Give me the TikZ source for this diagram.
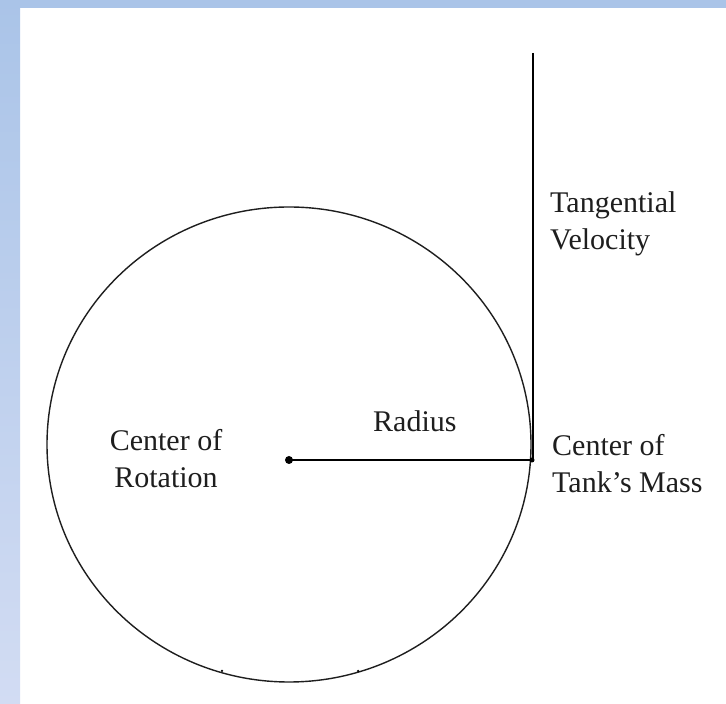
\documentclass[tikz,border=0pt]{standalone}
\usepackage{fontspec}
\setmainfont{Liberation Serif}
\definecolor{bgtop}{RGB}{170,196,232}
\definecolor{bgbot}{RGB}{210,220,243}
\definecolor{ink}{RGB}{30,30,30}
\begin{document}
\begin{tikzpicture}[x=1pt,y=1pt,
  lbl/.style={font=\fontsize{30}{37}\selectfont, text=ink, inner sep=0pt},
  thin line/.style={draw=ink, line width=1.4pt},
  thick line/.style={draw=black, line width=2pt},
  dotmark/.style={circle, fill=black, inner sep=0pt, minimum size=#1}]
\useasboundingbox (0,0) rectangle (726,704);
\fill[white] (0,0) rectangle (726,704);
\shade[top color=bgtop, bottom color=bgbot] (0,0) rectangle (20,704);
\fill[bgtop] (0,696) rectangle (726,704);
% circle
\draw[thin line] (289,259.5) ellipse [x radius=242, y radius=237.5];
% points
\node[dotmark=8pt] (O) at (289,244) {};
\node[dotmark=5pt] (M) at (532,244) {};
\coordinate (T) at (533,651);
\node[dotmark=2.5pt] (d1) at (222,33) {};
\node[dotmark=2.5pt] (d2) at (358,33) {};
% radius and tangent
\draw[thick line] (O.center) -- (M.center);
\draw[thick line] (T) -- (T |- M);
% labels (base anchor = baseline of last line)
\node[lbl, anchor=base west, align=left] (tv) at (550,454) {Tangential\\Velocity};
\node[lbl, anchor=base west] (rad) at (373,272) {Radius};
\node[lbl, anchor=base, align=center] (cr) at (166,216) {Center of\\Rotation};
\node[lbl, anchor=base west, align=left] (cm) at (552,211) {Center of\\Tank's Mass};
\end{tikzpicture}
\end{document}
